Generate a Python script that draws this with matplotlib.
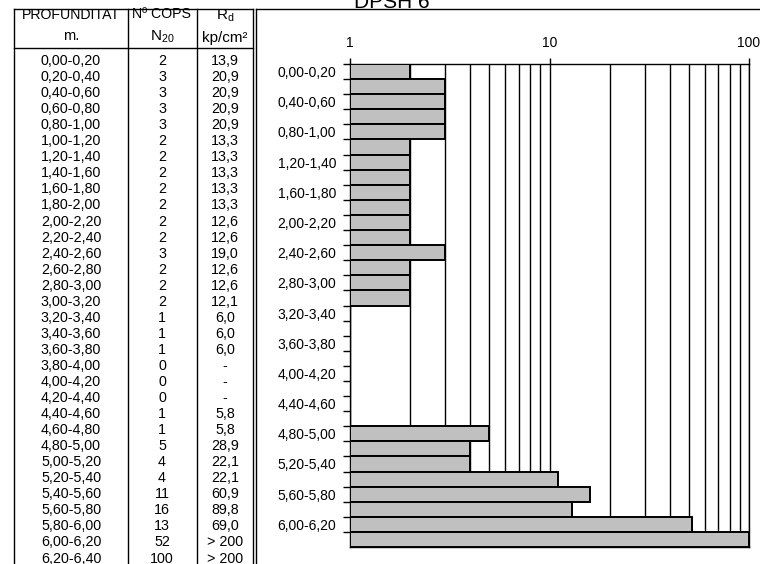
import numpy as np
import matplotlib.pyplot as plt
from matplotlib.lines import Line2D
from matplotlib.ticker import FixedLocator, NullFormatter

depths = ["0,00-0,20", "0,20-0,40", "0,40-0,60", "0,60-0,80", "0,80-1,00",
          "1,00-1,20", "1,20-1,40", "1,40-1,60", "1,60-1,80", "1,80-2,00",
          "2,00-2,20", "2,20-2,40", "2,40-2,60", "2,60-2,80", "2,80-3,00",
          "3,00-3,20", "3,20-3,40", "3,40-3,60", "3,60-3,80", "3,80-4,00",
          "4,00-4,20", "4,20-4,40", "4,40-4,60", "4,60-4,80", "4,80-5,00",
          "5,00-5,20", "5,20-5,40", "5,40-5,60", "5,60-5,80", "5,80-6,00",
          "6,00-6,20", "6,20-6,40"]
n20 = [2, 3, 3, 3, 3, 2, 2, 2, 2, 2, 2, 2, 3, 2, 2, 2,
       1, 1, 1, 0, 0, 0, 1, 1, 5, 4, 4, 11, 16, 13, 52, 100]
rd = ["13,9", "20,9", "20,9", "20,9", "20,9", "13,3", "13,3", "13,3", "13,3", "13,3",
      "12,6", "12,6", "19,0", "12,6", "12,6", "12,1", "6,0", "6,0", "6,0", "-", "-", "-",
      "5,8", "5,8", "28,9", "22,1", "22,1", "60,9", "89,8", "69,0", "> 200", "> 200"]
x_ticks = [1, 10, 100]

W, H = 760, 564
plt.rcParams['font.family'] = ['Liberation Sans', 'DejaVu Sans']
fig = plt.figure(figsize=(W / 100, H / 100), dpi=100)
narrow = ['Liberation Sans Narrow', 'Liberation Sans']


def px(x, y):
    return x / W, 1 - y / H


def line(x0, y0, x1, y1, lw=1.0):
    a, b = px(x0, y0)
    c, d = px(x1, y1)
    fig.add_artist(Line2D([a, c], [b, d], color='black', lw=lw))


def txt(x, y, s, size=10.3, **kw):
    a, b = px(x, y)
    fig.text(a, b, s, ha='center', va='center', fontsize=size, family=narrow, **kw)


# table frame
line(14, 9, 253, 9)
line(14, 48, 253, 48)
for xc in [14, 128, 197, 253]:
    line(xc, 9, xc, H + 5)

# chart frame
line(256, 9, W + 5, 9)
line(256, 9, 256, H + 5)

txt(71, 15, "PROFUNDITAT", size=10.2)
txt(162, 14, "Nº COPS", size=10.2)
txt(225, 16, "R$_\\mathregular{d}$", size=11)
txt(71, 36, "m.", size=10.5)
txt(162, 37, "N$_\\mathregular{20}$", size=11)
txt(225, 38, "kp/cm²", size=11)

for i, (d, n, r) in enumerate(zip(depths, n20, rd)):
    yy = 61 + i * 16.05
    txt(71, yy, d)
    txt(162, yy, str(n))
    txt(225, yy, r)

a, b = px(392, 8)
fig.text(a, b, "DPSH 6", ha='center', va='baseline', fontsize=15)

# chart
ax = fig.add_axes([350 / W, 1 - 547 / H, (749 - 350) / W, (547 - 64) / H])
ax.set_xscale('log')
ax.set_xlim(1, 100)
ax.set_ylim(len(n20) - 0.5, -0.5)

n = np.array(n20, dtype=float)
rows = np.arange(len(n))
show = n > 1
ax.barh(rows[show], n[show] - 1, left=1, height=1.0,
        color='#c0c0c0', edgecolor='black', linewidth=1.4, zorder=3)

ax.xaxis.set_ticks_position('top')
ax.xaxis.set_major_locator(FixedLocator(x_ticks))
ax.set_xticklabels([str(t) for t in x_ticks], family='Liberation Sans')
minor = [k * 10 ** e for e in range(2) for k in range(2, 10)]
ax.xaxis.set_minor_locator(FixedLocator(minor))
ax.xaxis.set_minor_formatter(NullFormatter())
ax.tick_params(axis='x', which='major', length=4, width=1, pad=6, labelsize=10)
ax.tick_params(axis='x', which='minor', length=0)
ax.grid(True, axis='x', which='both', color='black', lw=1.0, zorder=1)
ax.set_axisbelow(True)

ax.yaxis.set_major_locator(FixedLocator(np.arange(len(n)) - 0.5))
ax.yaxis.set_major_formatter(NullFormatter())
ax.yaxis.set_minor_locator(FixedLocator(rows[::2]))
ax.set_yticklabels([depths[i] for i in rows[::2]], minor=True, family='Liberation Sans')
ax.tick_params(axis='y', which='major', length=5, width=1)
ax.tick_params(axis='y', which='minor', length=0, pad=10, labelsize=10)

for s in ax.spines.values():
    s.set_linewidth(1.0)

fig.savefig('out.png', dpi=100)
